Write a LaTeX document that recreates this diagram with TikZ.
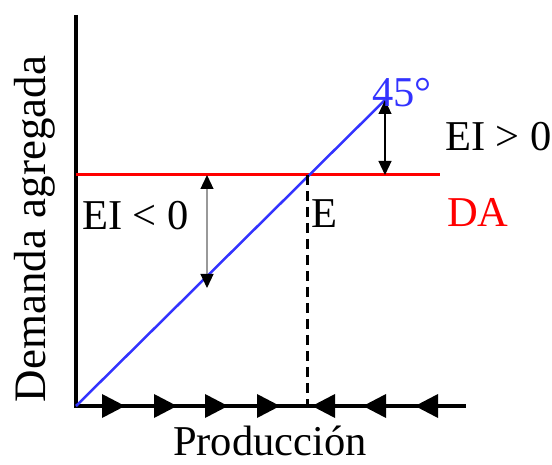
\documentclass[tikz,border=0pt]{standalone}
\usepackage{fontspec}
\setmainfont{Liberation Serif}
\usetikzlibrary{arrows.meta}
\begin{document}
\begin{tikzpicture}[x=1pt,y=1pt,font=\fontsize{42.5}{48}\selectfont]
\definecolor{cblue}{HTML}{3333FF}\definecolor{cred}{HTML}{FF0000}
\tikzset{axisline/.style={line width=3.5pt},
 gap/.style={line width=1.2pt,{Triangle[length=14pt,width=13pt,black]}-{Triangle[length=14pt,width=13pt,black]}},
 lbl/.style={inner sep=0pt,anchor=base west}}
\useasboundingbox (0,0) rectangle (552,464);
% axes
\coordinate (O) at (76,58);
\coordinate (ytop) at (76,449);
\coordinate (xend) at (466,58);
\draw[axisline] (ytop) -- (O) -- (xend);
% output adjustment on the axis
\foreach \t in {125,177,228,280} \fill (\t,58) -- (\t-23,70) -- (\t-23,46) -- cycle;
\foreach \t in {312,363,415} \fill (\t,58) -- (\t+23,70) -- (\t+23,46) -- cycle;
% lines
\coordinate (daL) at (76,289);
\coordinate (daR) at (440,289);
\coordinate (top45) at (385,364);
\coordinate (E) at (307,289);
\coordinate (Ex) at (307,58);
\draw[cred,line width=3pt] (daL) -- (daR);
\draw[cblue,line width=2.5pt] (O) -- (top45);
\draw[line width=3pt,dash pattern=on 10pt off 6pt] (E) -- (Ex);
% unplanned inventory
\coordinate (gLtop) at (207,289);
\coordinate (gLbot) at (207,176);
\coordinate (gRbot) at (385,289);
\draw[gap,draw=black!40] (gLtop) -- (gLbot);
\draw[gap] (top45) -- (gRbot);
% labels
\node[lbl] (eineg) at (82,234) {EI < 0};
\node[lbl] (elbl) at (311,236) {E};
\node[lbl,text=cred] (dalbl) at (447,237) {DA};
\node[lbl] (eipos) at (445,313) {EI > 0};
\node[lbl,text=cblue] (ang) at (372,357) {45°};
\node[lbl,anchor=base] (xlbl) at (270,9) {Producción};
\node[lbl,anchor=base,rotate=90,font=\fontsize{45}{50}\selectfont] (ylbl) at (46,235) {Demanda agregada};
\end{tikzpicture}
\end{document}
